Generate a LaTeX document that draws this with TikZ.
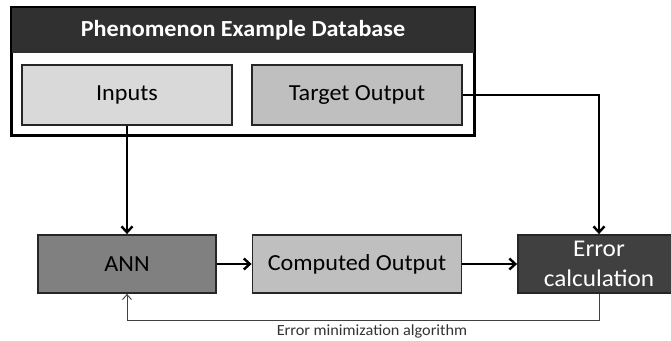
\documentclass[tikz,border=0pt]{standalone}
\usepackage{fontspec}
\setmainfont{Carlito}[FakeStretch=1.05]
\usetikzlibrary{arrows.meta}
\definecolor{headgray}{HTML}{303030}
\definecolor{lightgray}{HTML}{D9D9D9}
\definecolor{midgray}{HTML}{BFBFBF}
\definecolor{anngray}{HTML}{808080}
\definecolor{errgray}{HTML}{404040}
\tikzset{blk/.style={draw=black!85, line width=1.8pt, minimum height=58pt, inner sep=0pt,
    font=\fontsize{23}{28}\selectfont, align=center}}
\tikzset{flow/.style={line width=2.4pt, -{Straight Barb[length=6pt,width=11pt]}}}
\tikzset{back/.style={line width=0.9pt, draw=black!75, -{Straight Barb[length=5pt,width=9pt]}}}

\begin{document}
\begin{tikzpicture}[x=1pt,y=-1pt]
\useasboundingbox (0,0) rectangle (671,340);

% database frame
\node[draw, line width=2pt, minimum width=462pt, minimum height=127pt, inner sep=0pt] (db) at (243,71.5) {};
\node[fill=headgray, minimum width=462pt, minimum height=45pt, inner sep=0pt, text=white,
    font=\fontsize{23}{28}\selectfont\bfseries] (head) at (243,30.5) {Phenomenon Example Database};
\draw[line width=2pt] (db.north west) rectangle (db.south east);

\node[blk, fill=lightgray, minimum width=210pt, minimum height=60pt] (inputs) at (127,95) {Inputs};
\node[blk, fill=midgray, minimum width=210pt, minimum height=60pt] (target) at (357,95) {Target Output};

% bottom row
\node[blk, fill=anngray, minimum width=178pt] (ann) at (127,264) {ANN};
\node[blk, fill=midgray, minimum width=209pt] (comp) at (357,264) {Computed Output};
\node[blk, fill=errgray, text=white, minimum width=162pt, font=\fontsize{24}{30}\selectfont] (err) at (599,264) {Error\\calculation};

\draw[flow] (inputs.south) -- (ann.north);
\draw[flow] (target.east) -| (err.north);
\draw[flow] (ann) -- (comp);
\draw[flow] (comp) -- (err);

% feedback
\coordinate (fb) at (599,320);
\draw[back] (err.south) -- (fb) -| (ann.south);
\node[font=\fontsize{15.5}{18}\selectfont, text=black!80] (lbl) at (372,331) {Error minimization algorithm};

\end{tikzpicture}
\end{document}
